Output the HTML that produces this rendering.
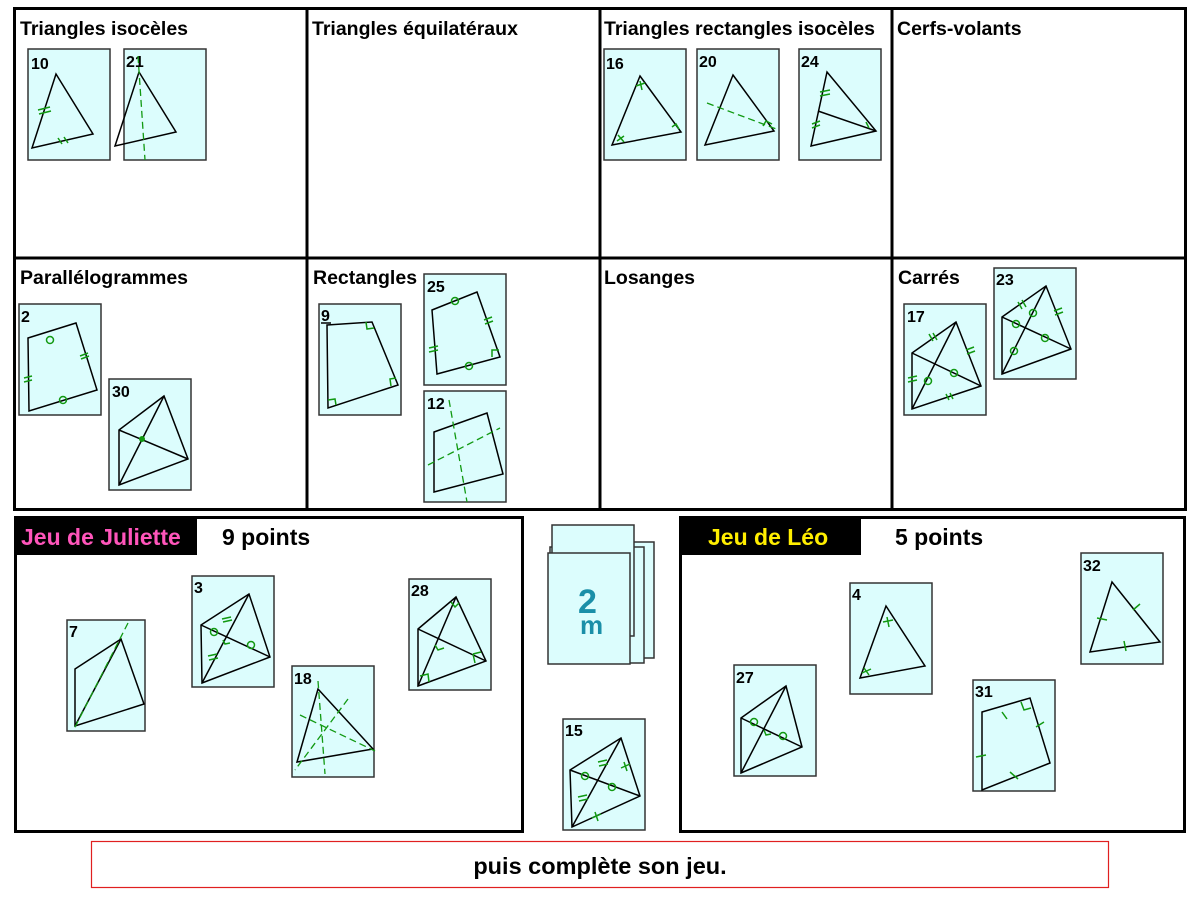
<!DOCTYPE html>
<html><head><meta charset="utf-8"><style>
html,body{margin:0;padding:0;background:#fff}
svg{display:block}
text{font-family:"Liberation Sans",sans-serif;font-weight:bold}
.card{fill:#dcfdfd;stroke:#333;stroke-width:1.5}
.f{fill:none;stroke:#000;stroke-width:1.5}
.g{fill:none;stroke:#119911;stroke-width:1.5}
.d{fill:none;stroke:#119911;stroke-width:1.3;stroke-dasharray:7,4}
.n{font-size:16px}
.h{font-size:19.5px}
</style></head><body>
<svg width="1200" height="900" viewBox="0 0 1200 900" xmlns="http://www.w3.org/2000/svg">
<rect x="14.5" y="8.5" width="1171" height="501" fill="none" stroke="#000" stroke-width="3"/>
<line x1="307" y1="8" x2="307" y2="510" stroke="#000" stroke-width="3"/>
<line x1="600" y1="8" x2="600" y2="510" stroke="#000" stroke-width="3"/>
<line x1="892" y1="8" x2="892" y2="510" stroke="#000" stroke-width="3"/>
<line x1="14" y1="258" x2="1186" y2="258" stroke="#000" stroke-width="3"/>
<text x="20" y="35" class="h">Triangles isocèles</text>
<text x="312" y="35" class="h">Triangles équilatéraux</text>
<text x="604" y="35" class="h">Triangles rectangles isocèles</text>
<text x="897" y="35" class="h">Cerfs-volants</text>
<text x="20" y="284" class="h">Parallélogrammes</text>
<text x="313" y="284" class="h">Rectangles</text>
<text x="604" y="284" class="h">Losanges</text>
<text x="898" y="284" class="h">Carrés</text>

<rect class="card" x="28" y="49" width="82" height="111"/><text x="31" y="69" class="n">10</text>
<polygon class="f" points="56,74 93,134 32,148"/>
<path class="g" d="M38,110 L50,107 M39,114 L51,111 M58,138 L62,144 M64,137 L68,143"/>
<rect class="card" x="124" y="49" width="82" height="111"/><text x="126" y="67" class="n">21</text>
<polygon class="f" points="139,72 176,132 115,146"/>
<line class="d" x1="138" y1="56" x2="145" y2="160"/>
<rect class="card" x="604" y="49" width="82" height="111"/><text x="606" y="69" class="n">16</text>
<polygon class="f" points="640,76 681,132 612,145"/>
<path class="g" d="M636,86 L645,83 M640,81 L642,90 M618,135 L624,142 M617,141 L624,136 M672,127 L676,124 L679,129"/>
<rect class="card" x="697" y="49" width="82" height="111"/><text x="699" y="67" class="n">20</text>
<polygon class="f" points="733,75 774,131 705,145"/>
<line class="d" x1="707" y1="103" x2="779" y2="130"/>
<path class="g" d="M763,126 L766,121 L772,124"/>
<rect class="card" x="799" y="49" width="82" height="111"/><text x="801" y="67" class="n">24</text>
<polygon class="f" points="827,72 876,131 811,146"/><line class="f" x1="818" y1="111" x2="876" y2="131"/>
<path class="g" d="M820,92 L830,90 M820,96 L830,94 M812,124 L820,121 M812,128 L820,125 M866,122 L869,128"/>

<rect class="card" x="19" y="304" width="82" height="111"/><text x="21" y="322" class="n">2</text>
<polygon class="f" points="28,338 76,323 97,390 29,411"/>
<circle class="g" cx="50" cy="340" r="3.5"/><circle class="g" cx="63" cy="400" r="3.5"/>
<path class="g" d="M80,356 L88,353 M81,359 L89,356 M24,378 L32,376 M24,382 L32,380"/>
<rect class="card" x="109" y="379" width="82" height="111"/><text x="112" y="397" class="n">30</text>
<polygon class="f" points="119,430 164,396 188,459 119,485"/>
<line class="f" x1="119" y1="430" x2="188" y2="459"/><line class="f" x1="164" y1="396" x2="119" y2="485"/>
<circle cx="142" cy="439" r="3" fill="#119911"/>
<rect class="card" x="319" y="304" width="82" height="111"/><text x="321" y="321" class="n">9</text>
<line x1="321" y1="323" x2="331" y2="323" stroke="#000" stroke-width="1.5"/>
<polygon class="f" points="327,325 372,322 398,385 328,408"/>
<path class="g" d="M366,322 L367,329 L374,328 M391,386 L390,379 L396,378 M328,400 L335,399 L336,405"/>
<rect class="card" x="424" y="274" width="82" height="111"/><text x="427" y="292" class="n">25</text>
<polygon class="f" points="432,310 477,292 500,357 437,374"/>
<circle class="g" cx="455" cy="301" r="3.5"/><circle class="g" cx="469" cy="366" r="3.5"/>
<path class="g" d="M484,320 L492,317 M485,324 L493,321 M429,348 L438,346 M429,352 L438,350 M492,357 L492,350 L499,350"/>
<rect class="card" x="424" y="391" width="82" height="111"/><text x="427" y="409" class="n">12</text>
<polygon class="f" points="434,432 487,413 503,474 434,492"/>
<line class="d" x1="449" y1="400" x2="467" y2="502"/><line class="d" x1="428" y1="465" x2="500" y2="428"/>
<rect class="card" x="904" y="304" width="82" height="111"/><text x="907" y="322" class="n">17</text>
<polygon class="f" points="912,353 956,322 981,386 912,409"/>
<line class="f" x1="912" y1="353" x2="981" y2="386"/><line class="f" x1="956" y1="322" x2="912" y2="409"/>
<circle class="g" cx="928" cy="381" r="3.5"/><circle class="g" cx="954" cy="373" r="3.5"/>
<path class="g" d="M929,334 L933,341 M933,333 L937,340 M966,350 L974,347 M967,354 L975,351 M908,378 L917,376 M908,382 L917,380 M946,394 L949,400 M950,393 L953,399"/>
<rect class="card" x="994" y="268" width="82" height="111"/><text x="996" y="285" class="n">23</text>
<polygon class="f" points="1002,317 1046,286 1071,349 1002,374"/>
<line class="f" x1="1002" y1="317" x2="1071" y2="349"/><line class="f" x1="1046" y1="286" x2="1002" y2="374"/>
<circle class="g" cx="1016" cy="324" r="3.5"/><circle class="g" cx="1033" cy="313" r="3.5"/><circle class="g" cx="1045" cy="338" r="3.5"/><circle class="g" cx="1014" cy="351" r="3.5"/>
<path class="g" d="M1018,302 L1022,309 M1022,300 L1026,307 M1054,311 L1062,308 M1055,315 L1063,312"/>

<rect x="15.5" y="517.5" width="507" height="314" fill="none" stroke="#000" stroke-width="3"/>
<rect x="15" y="518" width="182" height="37" fill="#000"/>
<text x="21" y="545" font-size="23" fill="#ff55bb">Jeu de Juliette</text>
<text x="222" y="545" font-size="23">9 points</text>
<rect class="card" x="67" y="620" width="78" height="111"/><text x="69" y="637" class="n">7</text>
<polygon class="f" points="75,669 121,639 144,704 75,726"/><line class="f" x1="121" y1="639" x2="75" y2="726"/>
<line class="d" x1="128" y1="623" x2="73" y2="731"/>
<rect class="card" x="192" y="576" width="82" height="111"/><text x="194" y="593" class="n">3</text>
<polygon class="f" points="201,625 249,594 270,657 202,683"/>
<line class="f" x1="201" y1="625" x2="270" y2="657"/><line class="f" x1="249" y1="594" x2="202" y2="683"/>
<circle class="g" cx="214" cy="632" r="3.5"/><circle class="g" cx="251" cy="645" r="3.5"/>
<path class="g" d="M222,619 L231,617 M223,622 L232,620 M208,656 L217,654 M209,660 L218,658 M223,640 L225,644 L230,643"/>
<rect class="card" x="409" y="579" width="82" height="111"/><text x="411" y="596" class="n">28</text>
<polygon class="f" points="418,629 456,597 486,661 418,686"/>
<line class="f" x1="418" y1="629" x2="486" y2="661"/><line class="f" x1="456" y1="597" x2="418" y2="686"/>
<path class="g" d="M451,602 L455,607 L459,603 M435,645 L438,650 L444,648 M473,654 L475,663 M473,654 L481,652 M420,676 L428,674 L429,682"/>
<rect class="card" x="292" y="666" width="82" height="111"/><text x="294" y="684" class="n">18</text>
<polygon class="f" points="297,762 318,689 373,749"/>
<line class="d" x1="318" y1="681" x2="325" y2="774"/><line class="d" x1="300" y1="715" x2="375" y2="751"/><line class="d" x1="348" y1="699" x2="295" y2="770"/>

<rect class="card" x="560" y="542" width="94" height="116"/>
<rect class="card" x="550" y="547" width="94" height="116"/>
<rect class="card" x="552" y="525" width="82" height="111"/>
<rect class="card" x="548" y="553" width="82" height="111"/>
<text x="578" y="613" font-size="34" fill="#1a8fa8" font-family="Liberation Serif">2</text>
<text x="580" y="634" font-size="26" fill="#1a8fa8" font-family="Liberation Serif">m</text>
<rect class="card" x="563" y="719" width="82" height="111"/><text x="565" y="736" class="n">15</text>
<polygon class="f" points="570,770 621,738 640,796 572,827"/>
<line class="f" x1="570" y1="770" x2="640" y2="796"/><line class="f" x1="621" y1="738" x2="572" y2="827"/>
<circle class="g" cx="585" cy="776" r="3.5"/><circle class="g" cx="612" cy="787" r="3.5"/>
<path class="g" d="M598,762 L607,760 M599,766 L608,764 M578,797 L587,795 M579,801 L588,799 M621,768 L630,764 M624,762 L627,771 M592,818 L601,814 M595,812 L598,821"/>

<rect x="680.5" y="517.5" width="504" height="314" fill="none" stroke="#000" stroke-width="3"/>
<rect x="680" y="518" width="181" height="37" fill="#000"/>
<text x="708" y="545" font-size="23" fill="#ffee00">Jeu de Léo</text>
<text x="895" y="545" font-size="23">5 points</text>
<rect class="card" x="850" y="583" width="82" height="111"/><text x="852" y="600" class="n">4</text>
<polygon class="f" points="886,606 925,666 860,678"/>
<path class="g" d="M883,622 L893,620 M887,617 L889,627 M864,668 L869,675 M862,673 L871,669"/>
<rect class="card" x="1081" y="553" width="82" height="111"/><text x="1083" y="571" class="n">32</text>
<polygon class="f" points="1112,582 1160,642 1090,652"/>
<path class="g" d="M1097,618 L1107,620 M1133,610 L1140,604 M1124,641 L1126,651"/>
<rect class="card" x="734" y="665" width="82" height="111"/><text x="736" y="683" class="n">27</text>
<polygon class="f" points="741,718 786,686 802,747 741,773"/>
<line class="f" x1="741" y1="718" x2="802" y2="747"/><line class="f" x1="786" y1="686" x2="741" y2="773"/>
<circle class="g" cx="754" cy="722" r="3.5"/><circle class="g" cx="783" cy="736" r="3.5"/>
<path class="g" d="M764,730 L766,735 L771,734"/>
<rect class="card" x="973" y="680" width="82" height="111"/><text x="975" y="697" class="n">31</text>
<polygon class="f" points="982,712 1030,698 1050,763 982,790"/>
<path class="g" d="M1002,712 L1007,719 M1036,727 L1044,722 M976,757 L986,755 M1010,772 L1018,779 M1021,702 L1024,710 L1031,708"/>

<rect x="91.5" y="841.5" width="1017" height="46" fill="none" stroke="#e02020" stroke-width="1.2"/>
<text x="600" y="874" font-size="23.5" text-anchor="middle">puis complète son jeu.</text>
</svg>
</body></html>
